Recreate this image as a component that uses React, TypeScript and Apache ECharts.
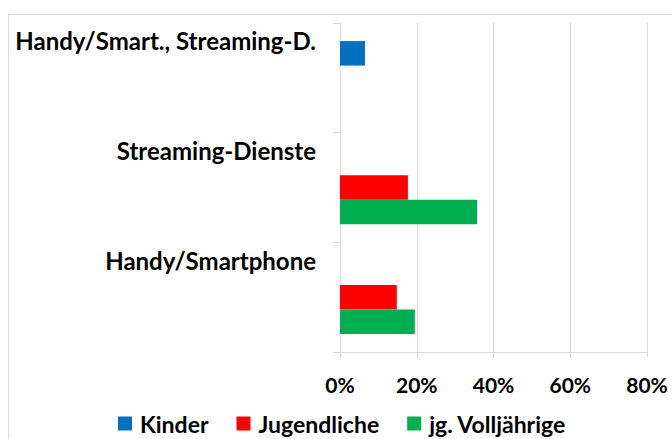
import React, { useEffect, useRef } from "react";
import * as echarts from "echarts";

const categories = ["Handy/Smartphone", "Streaming-Dienste", "Handy/Smart., Streaming-D."];
const seriesNames = ["Kinder", "Jugendliche", "jg. Volljährige"];
const kinder = [null, null, 6.5];
const jugendliche = [14.8, 17.7, null];
const volljaehrige = [19.5, 35.7, null];
const xTicks = [0, 20, 40, 60, 80];
const colors = ["#0070C0", "#FF0000", "#00B050"];

const FONT = "Lato";

export default function App() {
  const ref = useRef<HTMLDivElement>(null);
  useEffect(() => {
    document.body.style.margin = "0";
    const chart = echarts.init(ref.current!, null, { renderer: "svg" });
    const values = [kinder, jugendliche, volljaehrige];
    chart.setOption({
      animation: false,
      backgroundColor: "#ffffff",
      textStyle: { fontFamily: FONT },
      graphic: [
        {
          type: "rect",
          shape: { x: 8.5, y: 14.5, width: 800, height: 600 },
          style: { fill: "none", stroke: "#d9d9d9", lineWidth: 1 },
          silent: true,
        },
      ],
      grid: { left: 340, right: 25, top: 23, bottom: 87, containLabel: false },
      legend: {
        left: 118,
        top: 412,
        padding: 0,
        itemWidth: 14,
        itemHeight: 14,
        itemGap: 28,
        icon: "rect",
        data: seriesNames,
        textStyle: {
          fontFamily: FONT,
          fontWeight: "bold",
          fontSize: 23,
          lineHeight: 23,
          color: "#000",
          padding: [0, 0, 0, 3],
        },
      },
      xAxis: {
        type: "value",
        min: xTicks[0],
        max: xTicks[xTicks.length - 1],
        interval: 20,
        axisLine: { show: true, lineStyle: { color: "#d9d9d9" } },
        axisTick: { show: true, length: 5, lineStyle: { color: "#d9d9d9" } },
        splitLine: { show: true, lineStyle: { color: "#d9d9d9" } },
        axisLabel: {
          formatter: "{value}%",
          fontFamily: FONT,
          fontWeight: "bold",
          fontSize: 21,
          color: "#000",
          margin: 22,
        },
      },
      yAxis: {
        type: "category",
        data: categories,
        axisLine: { show: true, lineStyle: { color: "#d9d9d9" } },
        axisTick: { show: true, length: 7, lineStyle: { color: "#d9d9d9" } },
        axisLabel: {
          interval: 0,
          hideOverlap: false,
          fontFamily: FONT,
          fontWeight: "bold",
          fontSize: 24,
          lineHeight: 74,
          color: "#000",
          margin: 24,
          verticalAlign: "middle",
          formatter: (v: string) => v + "\n ",
        },
      },
      series: seriesNames.map((name, i) => ({
        name,
        type: "bar",
        data: values[i],
        barGap: "0%",
        barCategoryGap: "33%",
        itemStyle: { color: colors[i] },
      })),
    });
    return () => chart.dispose();
  }, []);
  return <div ref={ref} style={{ width: 672, height: 439 }} />;
}
